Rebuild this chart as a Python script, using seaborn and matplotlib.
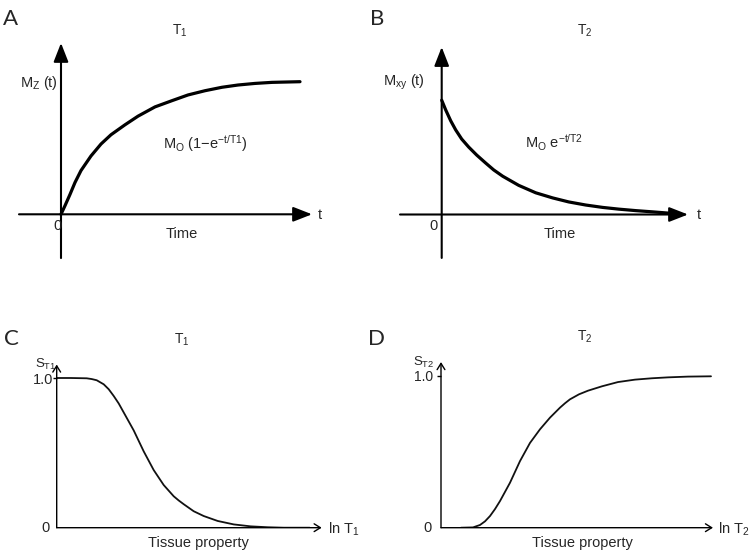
#!/usr/bin/env python3
"""
T1 / T2 relaxation schematic (four panels A-D).
Curves are values read off the reference picture.
"""

import matplotlib
matplotlib.use("Agg")
import matplotlib.pyplot as plt
import seaborn as sns

W, H = 750, 554   # figure size in pixels

# ── A: T1 recovery, M_z(t) ────────────────────────────────────────────────
t1_time = [0, 0.4, 0.9, 1.4, 2.0, 3.0, 4.0, 5.0, 6.4, 7.7, 9.4, 11.1, 12.7,
           14.4, 16.1, 17.7, 19.4, 21.1, 23.9]
t1_mz = [0, 0.065, 0.15, 0.24, 0.33, 0.44, 0.53, 0.60, 0.675, 0.74, 0.81,
         0.857, 0.90, 0.932, 0.958, 0.975, 0.987, 0.995, 1.0]

# ── B: T2 decay, M_xy(t) ──────────────────────────────────────────────────
t2_time = [0, 0.4, 0.9, 1.4, 2.0, 2.7, 3.5, 4.4, 5.2, 6.1, 7.7, 9.4, 11.1,
           12.7, 14.4, 16.1, 17.7, 19.4, 21.1, 22.7, 23.9]
t2_mxy = [1.0, 0.915, 0.82, 0.74, 0.66, 0.59, 0.52, 0.45, 0.39, 0.335, 0.255,
          0.19, 0.145, 0.11, 0.083, 0.062, 0.047, 0.034, 0.023, 0.012, 0.004]

# ── C: T1-weighted signal vs ln T1 ────────────────────────────────────────
st1_x = [0, 1.4, 3.0, 3.5, 4.0, 4.7, 5.2, 5.7, 6.2, 6.7, 7.7, 8.7, 9.7, 10.7,
         11.7, 12.2, 12.7, 13.7, 14.7, 16.1, 17.7, 19.4, 21.1, 22.7, 25.3]
st1_y = [1.0, 1.0, 0.998, 0.993, 0.985, 0.958, 0.925, 0.88, 0.83, 0.77, 0.65,
         0.51, 0.385, 0.285, 0.21, 0.182, 0.157, 0.11, 0.078, 0.045, 0.022,
         0.009, 0.003, 0.0, 0.0]

# ── D: T2-weighted signal vs ln T2 ────────────────────────────────────────
st2_x = [2.0, 3.2, 3.9, 4.4, 4.9, 5.4, 5.9, 6.9, 7.9, 8.9, 9.9, 10.9, 11.9,
         12.4, 12.9, 13.8, 14.7, 16.1, 17.7, 19.4, 21.1, 22.7, 24.7, 27.0]
st2_y = [0, 0.002, 0.018, 0.042, 0.077, 0.123, 0.176, 0.297, 0.44, 0.56,
         0.65, 0.727, 0.793, 0.822, 0.848, 0.881, 0.905, 0.934, 0.962, 0.978,
         0.987, 0.993, 0.998, 1.0]

sns.set_theme(style="white")
plt.rcParams["font.family"] = ["Liberation Sans", "DejaVu Sans"]
plt.rcParams["mathtext.fontset"] = "custom"
plt.rcParams["mathtext.rm"] = "Liberation Sans"
plt.rcParams["mathtext.it"] = "Liberation Sans:italic"
plt.rcParams["mathtext.bf"] = "Liberation Sans:bold"

fig = plt.figure(figsize=(W / 100, H / 100), dpi=100)


def panel(box, origin, scale):
    """Axes placed in pixel box (left, top, right, bottom); origin in px."""
    left, top, right, bottom = box
    ox, oy = origin
    sx, sy = scale
    ax = fig.add_axes([left / W, 1 - bottom / H,
                       (right - left) / W, (bottom - top) / H])
    ax.set_facecolor("none")
    return ax, ((left - ox) / sx, (right - ox) / sx), \
        ((oy - bottom) / sy, (oy - top) / sy)


def finish(ax, xlim, ylim):
    ax.set_xlim(*xlim)
    ax.set_ylim(*ylim)
    for s in ax.spines.values():
        s.set_visible(False)
    ax.set_xticks([])
    ax.set_yticks([])
    ax.set_xlabel("")
    ax.set_ylabel("")


def txt(px, py, s, size=10.5, ha="left", **kw):
    fig.text(px / W, 1 - py / H, s, fontsize=size, ha=ha, va="baseline", **kw)


def arrow(ax, start, end, style, lw):
    ax.annotate("", xy=end, xytext=start, xycoords="data", textcoords="data",
                arrowprops=dict(arrowstyle=style, lw=lw, color="black",
                                shrinkA=0, shrinkB=0, mutation_scale=10),
                annotation_clip=False)


BIG = "-|>,head_length=1.15,head_width=0.45"
SMALL = "->,head_length=0.45,head_width=0.28"

# ── Panel A ──
axA, xl, yl = panel((15, 35, 330, 262), (61, 214.3), (10, 132.6))
sns.lineplot(x=t1_time, y=t1_mz, ax=axA, color="black", lw=2.3, zorder=3)
finish(axA, xl, yl)
arrow(axA, (-4.2, 0), (25.1, 0), BIG, 1.5)
arrow(axA, (0, -0.33), (0, 1.292), BIG, 1.5)

# ── Panel B ──
axB, xl, yl = panel((395, 35, 715, 262), (441.7, 214.5), (10, 114.3))
sns.lineplot(x=t2_time, y=t2_mxy, ax=axB, color="black", lw=2.3, zorder=3)
finish(axB, xl, yl)
arrow(axB, (-4.17, 0), (24.63, 0), BIG, 1.5)
arrow(axB, (0, -0.38), (0, 1.465), BIG, 1.5)

# ── Panel C ──
axC, xl, yl = panel((56.7, 355, 330, 527.7), (56.7, 527.7), (10, 149.7))
sns.lineplot(x=st1_x, y=st1_y, ax=axC, color="#111111", lw=1.3, zorder=3)
finish(axC, xl, yl)
axC.set_yticks([1.0], labels=[""])
axC.tick_params(axis="y", left=True, length=3, width=1, color="black")
arrow(axC, (0, 0), (26.5, 0), SMALL, 1.0)
arrow(axC, (0, 0), (0, 1.09), SMALL, 1.0)

# ── Panel D ──
axD, xl, yl = panel((441, 355, 720, 527.7), (441, 527.7), (10, 151.4))
sns.lineplot(x=st2_x, y=st2_y, ax=axD, color="#111111", lw=1.3, zorder=3)
finish(axD, xl, yl)
axD.set_yticks([1.0], labels=[""])
axD.tick_params(axis="y", left=True, length=3, width=1, color="black")
arrow(axD, (0, 0), (27.2, 0), SMALL, 1.0)
arrow(axD, (0, 0), (0, 1.094), SMALL, 1.0)

# ── Text ──
letter = dict(size=16, family=["Lato", "DejaVu Sans"])
txt(3, 25, "A", **letter)
txt(370, 25, "B", **letter)
txt(4, 345, "C", **letter)
txt(368, 345, "D", **letter)

txt(180, 35, r"T$_\mathregular{1}$", size=10, ha="center")
txt(585, 35, r"T$_\mathregular{2}$", size=10, ha="center")
txt(182, 343.5, r"T$_\mathregular{1}$", size=10, ha="center")
txt(585, 340.5, r"T$_\mathregular{2}$", size=10, ha="center")

txt(20, 87, r"M$_\mathregular{Z}$ (t)")
txt(163, 149, r"M$_\mathregular{O}$ (1−e$^\mathregular{−t/T1}$)")
txt(57, 230, "0", ha="center")
txt(318, 218.5, "t")
txt(182, 237.5, "Time", ha="center")

txt(383, 86, r"M$_\mathregular{xy}$ (t)")
txt(525, 148.5, r"M$_\mathregular{O}$ e$^\mathregular{−t/T2}$")
txt(434, 230, "0", ha="center")
txt(697, 218.5, "t")
txt(560, 237.5, "Time", ha="center")

txt(35, 367.5, r"S$_\mathregular{T1}$", size=9.5)
txt(53, 383.5, "1.0", size=10.5, ha="right")
txt(45, 532.5, "0", ha="center")
txt(328, 533.5, r"ln T$_\mathregular{1}$", size=10.5)
txt(198, 547, "Tissue property", ha="center")

txt(413, 365.5, r"S$_\mathregular{T2}$", size=9.5)
txt(433, 381, "1.0", size=10, ha="right")
txt(427, 532, "0", ha="center")
txt(718, 533.5, r"ln T$_\mathregular{2}$", size=10.5)
txt(582, 547, "Tissue property", ha="center")

fig.savefig("out.png", dpi=100)
plt.close(fig)
